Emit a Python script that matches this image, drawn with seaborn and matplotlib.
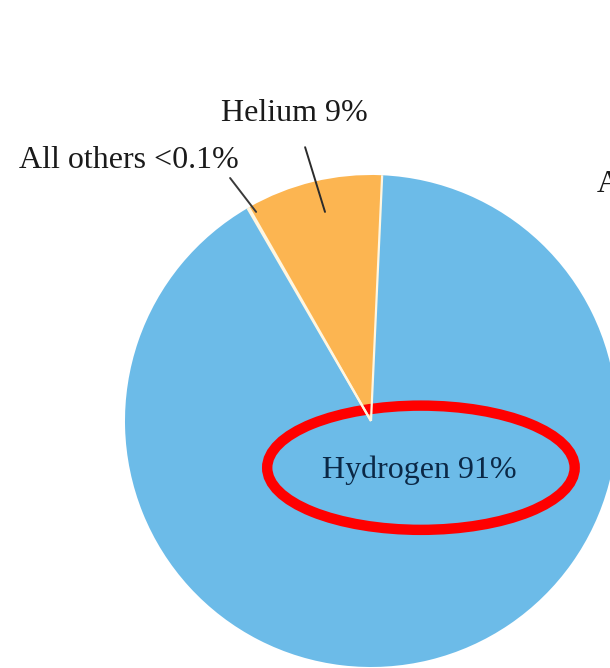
import matplotlib
matplotlib.use("Agg")
import matplotlib.pyplot as plt
from matplotlib.patches import Ellipse
import numpy as np
import seaborn as sns

# Composition of the Sun by number of atoms
elements = ["Helium", "All others", "Hydrogen"]
shares = [9.0, 0.1, 91.0]
share_labels = ["9%", "<0.1%", "91%"]
colors = ["#FCB551", "#F4E9C8", "#6CBBE8"]

sns.set_theme(style="white")
plt.rcParams["font.family"] = ["Liberation Serif", "DejaVu Serif"]

W, H = 610, 668
fig = plt.figure(figsize=(W / 100, H / 100), dpi=100)
fig.patch.set_facecolor("white")

# square axes holding a unit-radius pie
cx, cy, r = 371, 421, 246
ax = fig.add_axes([(cx - r) / W, (H - cy - r) / H, 2 * r / W, 2 * r / H])
ax.axis("off")

start = 87.4
ax.pie(shares, colors=colors, startangle=start, counterclock=True,
       radius=1.0, center=(0, 0), wedgeprops=dict(linewidth=0))

# pale separators along the wedge boundaries only
bounds = start + np.concatenate([[0], np.cumsum(shares)]) / np.sum(shares) * 360
for a in bounds[:-1]:
    t = np.deg2rad(a)
    ax.plot([0, np.cos(t)], [0, np.sin(t)], color="#FFF6E0", lw=1.6,
            solid_capstyle="butt")
ax.set_xlim(-1, 1)
ax.set_ylim(-1, 1)

txt = dict(fontsize=23, color="#1A1A1A", ha="center", va="center")

# Helium label with leader line
ax.annotate(f"{elements[0]} {share_labels[0]}", xy=(-0.187, 0.85),
            xytext=(-0.31, 1.25), textcoords="data",
            arrowprops=dict(arrowstyle="-", color="#2B2B2B", lw=1.4,
                            shrinkA=12, shrinkB=0),
            annotation_clip=False, **txt)

# trace elements label with leader line
ax.annotate(f"{elements[1]} {share_labels[1]}", xy=(-0.467, 0.85),
            xytext=(-0.985, 1.06), textcoords="data",
            arrowprops=dict(arrowstyle="-", color="#3A3A3A", lw=1.4,
                            shrinkA=0, shrinkB=0,
                            relpos=(0.95, 0.0)),
            annotation_clip=False, **txt)

# Hydrogen label inside its wedge, circled
ax.text(0.195, -0.2, f"{elements[2]} {share_labels[2]}", fontsize=23,
        color="#0B2846", ha="center", va="center")
ax.add_patch(Ellipse((0.203, -0.19), 1.25, 0.505, fill=False,
                     edgecolor="#FF0000", linewidth=7.5, clip_on=False))

# label running past the right border
fig.text(597 / W, 1 - 185 / H, "All", fontsize=23, color="#1A1A1A",
         ha="left", va="center")

fig.savefig("out.png", dpi=100, facecolor="white")
